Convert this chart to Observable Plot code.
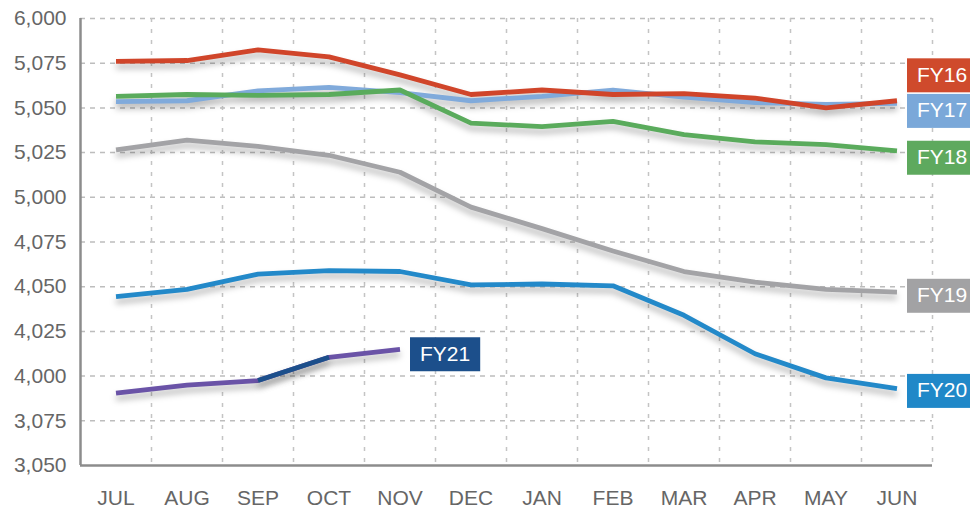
<!DOCTYPE html>
<html><head><meta charset="utf-8">
<script src="https://cdn.jsdelivr.net/npm/d3@7"></script>
<script src="https://cdn.jsdelivr.net/npm/@observablehq/plot@0.6"></script>
<style>body{margin:0;background:#fff;overflow:hidden}</style>
</head><body><div id="chart"></div>
<script>
const months = ["JUL","AUG","SEP","OCT","NOV","DEC","JAN","FEB","MAR","APR","MAY","JUN"];
const yTickValues = [6000,5975,5950,5925,5900,5875,5850,5825,5800,5775,5750];
const yTickLabels = ["6,000","5,075","5,050","5,025","5,000","4,075","4,050","4,025","4,000","3,075","3,050"];

const seriesNames = ["FY17","FY18","FY16","FY19","FY20","FY21"];
const fy16 = [5976, 5976.5, 5982.5, 5978.5, 5968.5, 5957.5, 5960, 5957.5, 5958, 5955.5, 5950, 5954];
const fy17 = [5953.5, 5954, 5959.5, 5961.5, 5958.5, 5954, 5956.5, 5960, 5956, 5953, 5952, 5952.5];
const fy18 = [5956.5, 5957.5, 5957, 5957.5, 5960, 5941.5, 5939.5, 5942.5, 5935, 5931, 5929.5, 5926];
const fy19 = [5926.5, 5932, 5928.5, 5923.5, 5914, 5894.5, 5882.5, 5870, 5858.5, 5852.5, 5848.5, 5847];
const fy20 = [5844.5, 5848.5, 5857, 5859, 5858.5, 5851, 5851.5, 5850.5, 5834, 5812.5, 5799, 5793];
const fy21 = [5790.5, 5795, 5797.5, 5810.5, 5815];
const seriesValues = {FY16: fy16, FY17: fy17, FY18: fy18, FY19: fy19, FY20: fy20, FY21: fy21};
const lineColors = {FY16:"#d0452a", FY17:"#80aadb", FY18:"#5aab5c", FY19:"#a3a3a6", FY20:"#2389c9", FY21:"#6a53a7"};
const fy21HighlightMonths = ["SEP","OCT"];
const fy21HighlightColor = "#1c4f8b";

// label annotations (series, month anchor, value at box centre, box colour)
const labelNames = ["FY16","FY17","FY18","FY19","FY20","FY21"];
const labelMonths = ["JUN","JUN","JUN","JUN","JUN","NOV"];
const labelValues = [5968.4, 5948.5, 5922.3, 5845.1, 5791.9, 5812.4];
const labelColors = ["#cf4a2c","#7aa8d9","#5ea95e","#a2a2a4","#2088c8","#1c4f8b"];

const rows = [];
for (const s of seriesNames) seriesValues[s].forEach((v, i) => rows.push({series: s, i, value: v}));
const highlight = fy21.map((v, i) => ({i, value: v})).filter(d => fy21HighlightMonths.includes(months[d.i]));
const labels = labelNames.map((n, k) => ({name: n, i: months.indexOf(labelMonths[k]), value: labelValues[k], color: labelColors[k]}));

const gridX = d3.range(1, months.length + 1).map(i => i - 0.5);
const yMin = d3.min(yTickValues), yMax = d3.max(yTickValues);

const chart = Plot.plot({
  width: 970, height: 510,
  marginTop: 18, marginBottom: 45, marginLeft: 80, marginRight: 38,
  style: {fontSize: "21px", fontFamily: "'Liberation Sans', Arial, sans-serif", color: "#666666", background: "#fff", overflow: "visible"},
  x: {type: "linear", domain: [-0.5, months.length - 0.5], ticks: d3.range(months.length), tickFormat: i => months[i], tickSize: 0, tickPadding: 25, label: null},
  y: {domain: [yMin, yMax], ticks: yTickValues, tickFormat: d => yTickLabels[yTickValues.indexOf(d)], tickSize: 0, tickPadding: 14, label: null},
  marks: [
    Plot.ruleY(yTickValues.filter(v => v !== yMin), {stroke: "#bdbdbd", strokeWidth: 1.5, strokeDasharray: "5,5"}),
    Plot.ruleX(gridX, {stroke: "#c4c4c4", strokeWidth: 1.5, strokeDasharray: "4,7"}),
    Plot.line(rows, {x: "i", y: "value", z: "series", stroke: d => lineColors[d.series], strokeWidth: 4.8, strokeLinejoin: "round", strokeLinecap: "butt"}),
    Plot.line(highlight, {x: "i", y: "value", stroke: fy21HighlightColor, strokeWidth: 4.8, strokeLinecap: "butt"}),
    Plot.ruleX([-0.5], {stroke: "#8c8c8c", strokeWidth: 2.5}),
    Plot.ruleY([yMin], {stroke: "#8c8c8c", strokeWidth: 2.5}),
    Plot.text(labels, {x: "i", y: "value", text: "name", fill: "#fff", fontSize: 21, textAnchor: "start", dx: 20})
  ]
});
document.getElementById("chart").appendChild(chart);

// shadows on lines
chart.querySelectorAll('g[aria-label="line"]').forEach(g => g.style.filter = "drop-shadow(0px 5px 3px rgba(0,0,0,0.28))");
// boxes behind labels
const ys = chart.scale("y");
const tg = chart.querySelector('g[aria-label="text"]');
if (tg) {
  tg.querySelectorAll("text").forEach((t, k) => {
    const b = t.getBBox();
    const r = document.createElementNS("http://www.w3.org/2000/svg", "rect");
    const tr = t.getAttribute("transform");
    if (tr) r.setAttribute("transform", tr);
    const yAttr = parseFloat(t.getAttribute("y")) || 0;
    // centre of box: the scaled value (in the same local coordinates as the text)
    const cy = tr ? yAttr : ys.apply(labels[k].value);
    r.setAttribute("x", b.x - 10);
    r.setAttribute("width", b.width + 20);
    r.setAttribute("y", cy - 17);
    r.setAttribute("height", 34);
    r.setAttribute("fill", labels[k].color);
    t.parentNode.insertBefore(r, t);
  });
}
</script>
</body></html>
